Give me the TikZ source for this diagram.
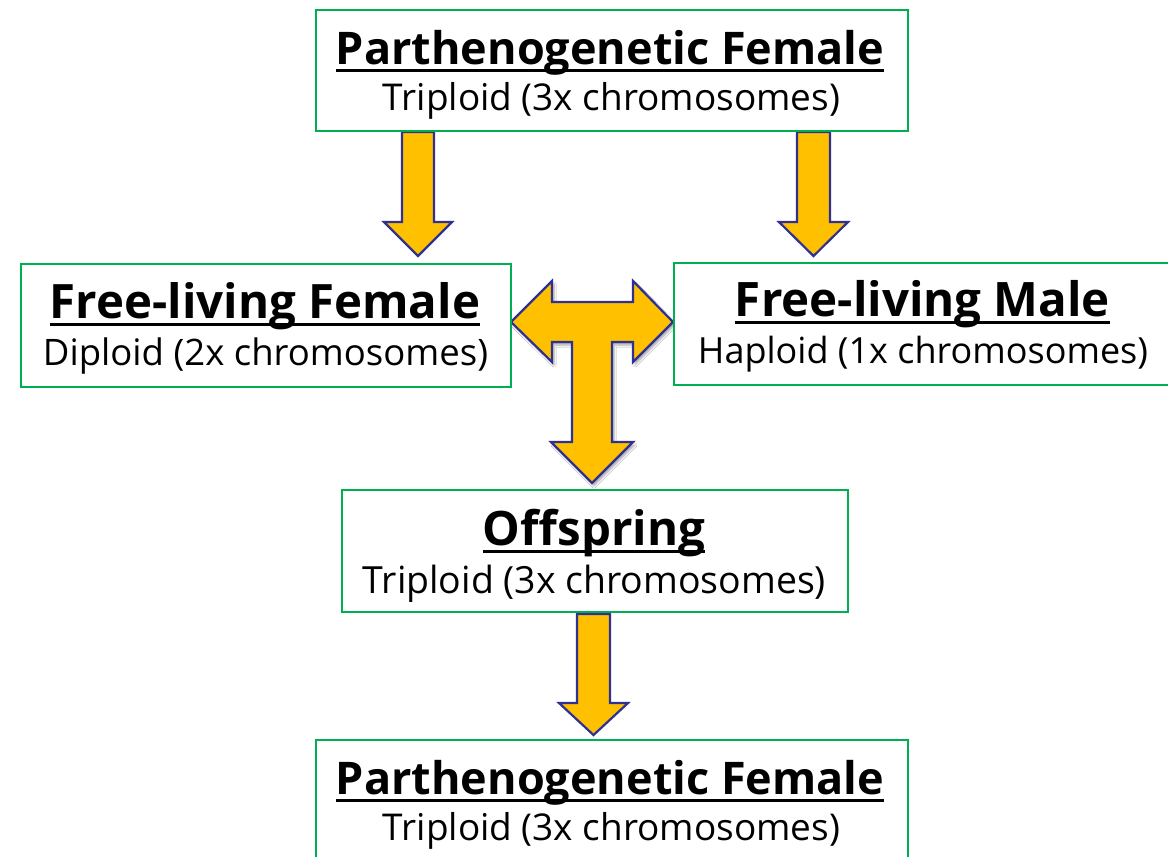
\documentclass[tikz,border=0pt]{standalone}
\usepackage{fontspec}
\setmainfont{Open Sans}
\usepackage{graphicx}
\usetikzlibrary{shadows.blur}
\definecolor{boxgreen}{HTML}{00B050}
\definecolor{arrowfill}{HTML}{FFC000}
\definecolor{arrowline}{HTML}{2E3192}
\newcommand\fitto[2]{\resizebox{#1pt}{!}{#2}}
\newcommand\ulbar[1]{\setbox0\hbox{#1}\rlap{\rule[-0.17em]{\wd0}{0.07em}}\box0}
\tikzset{
  box/.style={draw=boxgreen, line width=2pt, fill=white, anchor=north west, inner sep=0pt},
  titletext/.style={anchor=base, inner sep=0pt, font=\bfseries},
  subtext/.style={anchor=base, inner sep=0pt},
  blockarrow/.style={fill=arrowfill, draw=arrowline, line width=2.2pt, line join=miter},
  downarrow/.style={blockarrow}
}
\begin{document}
\begin{tikzpicture}[x=1pt,y=-1pt]
\useasboundingbox (0,0) rectangle (1168,857);
\clip (0,0) rectangle (1168,857);
\fill[white] (0,0) rectangle (1168,857);

% connector anchor points
\coordinate (a1) at (418,132);
\coordinate (a2) at (813.5,132);
\coordinate (a3) at (593.5,614);
\coordinate (tc) at (592,322);

% down arrows
\draw[downarrow, shift={(a1)}] (-16,0) -- (16,0) -- (16,90) -- (34,90) -- (0,124) -- (-34,90) -- (-16,90) -- cycle;
\draw[downarrow, shift={(a2)}] (-16.5,0) -- (16.5,0) -- (16.5,90) -- (34.5,90) -- (0,124) -- (-34.5,90) -- (-16.5,90) -- cycle;
\draw[downarrow, shift={(a3)}] (-16.5,0) -- (16.5,0) -- (16.5,89) -- (34.5,89) -- (0,121) -- (-34.5,89) -- (-16.5,89) -- cycle;

% T arrow
\draw[blockarrow, blur shadow={shadow xshift=2pt, shadow yshift=-3pt, shadow opacity=35, shadow blur steps=6}, shift={(tc)}]
  (-81,0) -- (-40,-41) -- (-40,-20) -- (41,-20) -- (41,-41) -- (81,0) -- (41,40) -- (41,20)
  -- (20,20) -- (20,120) -- (41,120) -- (0,161) -- (-41,120) -- (-20,120) -- (-20,20)
  -- (-40,20) -- (-40,40) -- cycle;

% boxes
\node[box, minimum width=592pt, minimum height=121pt] (top) at (315,9) {};
\node[box, minimum width=490pt, minimum height=123pt] (ff) at (20,263) {};
\node[box, minimum width=510pt, minimum height=122pt] (fm) at (673,262) {};
\node[box, minimum width=506pt, minimum height=122pt] (off) at (341,489) {};
\node[box, minimum width=592pt, minimum height=140pt] (bot) at (315,739) {};

% texts
\node[titletext] (topT) at (610,64) {\fitto{548}{\ulbar{Parthenogenetic Female}}};
\node[subtext] (topS) at (611.5,110) {\fitto{457}{Triploid (3x chromosomes)}};

\node[titletext] (ffT) at (265,318) {\fitto{430}{\ulbar{Free-living Female}}};
\node[subtext] (ffS) at (265.5,365) {\fitto{445}{Diploid (2x chromosomes)}};

\node[titletext] (fmT) at (922.5,316) {\fitto{375}{\ulbar{Free-living Male}}};
\node[subtext] (fmS) at (923,363) {\fitto{450}{Haploid (1x chromosomes)}};

\node[titletext] (offT) at (594,545) {\fitto{222}{\ulbar{Offspring}}};
\node[subtext] (offS) at (594.5,593) {\fitto{463}{Triploid (3x chromosomes)}};

\node[titletext] (botT) at (610,794) {\fitto{548}{\ulbar{Parthenogenetic Female}}};
\node[subtext] (botS) at (611.5,840) {\fitto{457}{Triploid (3x chromosomes)}};
\end{tikzpicture}
\end{document}
